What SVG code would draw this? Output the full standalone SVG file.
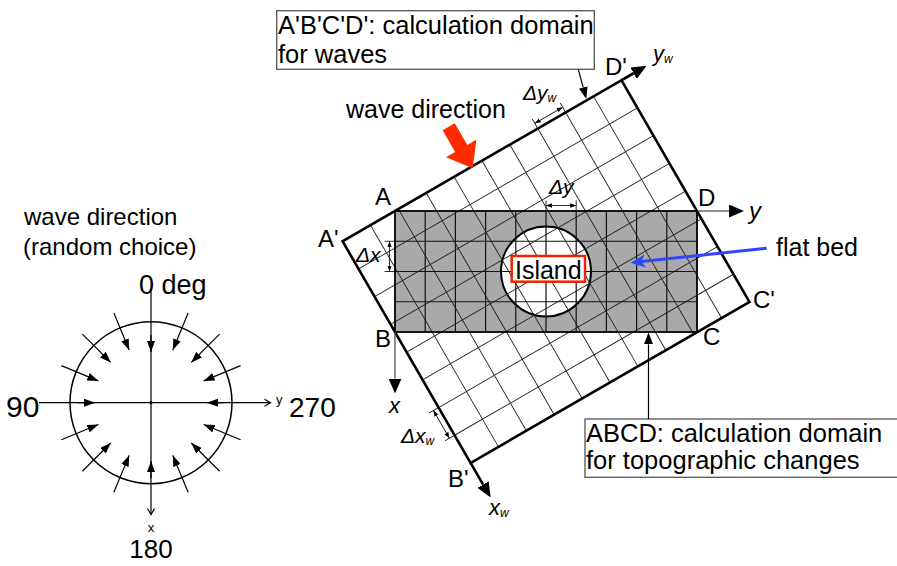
<svg xmlns="http://www.w3.org/2000/svg" width="897" height="566" viewBox="0 0 897 566">
<style>
text{font-family:"Liberation Sans",Arial,Helvetica,sans-serif;fill:#000}
.lbl{font-size:24px}
.big{font-size:25px}
.boxt{font-size:25.5px}
.it{font-style:italic}
.dl{font-size:21px;font-style:italic}
.sub{font-size:12px}
.gridT{stroke:#111;stroke-width:1.2;fill:none}
.gridW{stroke:#222;stroke-width:0.9;fill:none}
.thick{stroke:#000;stroke-width:2.6;fill:none}
.thin{stroke:#000;stroke-width:1.2;fill:none}
.axis{stroke:#444;stroke-width:1.2;fill:none}
.dim{stroke:#000;stroke-width:0.8;fill:none}
.box{fill:#fff;stroke:#555;stroke-width:1.3}
</style>
<defs>
<marker id="arr" viewBox="0 -6.5 15 13" refX="0" refY="0" markerWidth="15" markerHeight="13" markerUnits="userSpaceOnUse" orient="auto">
<path d="M0,-6.5 L15,0 L0,6.5 z" fill="#000"/>
</marker>
<marker id="sa" viewBox="0 -4 11 8" refX="11" refY="0" markerWidth="11" markerHeight="8" markerUnits="userSpaceOnUse" orient="auto">
<path d="M0,-4 L11,0 L0,4 z" fill="#000"/>
</marker>
<marker id="ca" viewBox="0 -4.5 12 9" refX="0" refY="0" markerWidth="12" markerHeight="9" markerUnits="userSpaceOnUse" orient="auto">
<path d="M0,-4.5 L12,0 L0,4.5 z" fill="#000"/>
</marker>
<marker id="oa" viewBox="-7 -4.5 8 9" refX="0" refY="0" markerWidth="8" markerHeight="9" markerUnits="userSpaceOnUse" orient="auto">
<path d="M-6,-3.5 L0,0 L-6,3.5" fill="none" stroke="#000" stroke-width="1.2"/>
</marker>
<marker id="dm" viewBox="-6 -2.5 6.5 5" refX="0" refY="0" markerWidth="6.5" markerHeight="5" markerUnits="userSpaceOnUse" orient="auto-start-reverse">
<path d="M-6,-2.2 L0,0 L-6,2.2 z" fill="#000"/>
</marker>
<marker id="ba" viewBox="0 -7 16 14" refX="4" refY="0" markerWidth="16" markerHeight="14" markerUnits="userSpaceOnUse" orient="auto">
<path d="M0,-6.5 L15,0 L0,6.5 L4,0 z" fill="#3344ff"/>
</marker>
</defs>
<rect x="0" y="0" width="897" height="566" fill="#fff"/>

<g id="topo-domain">
<rect x="395" y="211" width="302" height="121" fill="#a9a9a9"/>
</g>
<g id="island">
<circle cx="546" cy="271.5" r="45" fill="#fff" stroke="#000" stroke-width="2"/>
</g>
<g id="topo-grid">
<path class="gridT" d="M425.2,211V332M455.4,211V332M485.6,211V332M515.8,211V332M546,211V332M576.2,211V332M606.4,211V332M636.6,211V332M666.8,211V332M395,241.25H697M395,271.5H697M395,301.75H697"/>
</g>

<g id="wave-domain" transform="translate(342.6,241.25) rotate(-30)">
<path class="gridW" d="M32.2,0V256M64.4,0V256M96.6,0V256M128.8,0V256M161,0V256M193.2,0V256M225.4,0V256M257.6,0V256M289.8,0V256M0,32H322M0,64H322M0,96H322M0,128H322M0,160H322M0,192H322M0,224H322"/>
<rect class="thick" x="0" y="0" width="322" height="256"/>
<path class="thick" d="M322,0H336" marker-end="url(#arr)"/>
<path class="thick" d="M0,256V281" marker-end="url(#arr)"/>
<g id="dim-yw">
<path class="dim" d="M225.4,0V-11M257.6,0V-11"/>
<path class="dim" d="M225.4,-6H257.6" marker-start="url(#dm)" marker-end="url(#dm)"/>
</g>
<g id="dim-xw">
<path class="dim" d="M0,192H-11M0,224H-11"/>
<path class="dim" d="M-6,192V224" marker-start="url(#dm)" marker-end="url(#dm)"/>
</g>
</g>

<g id="topo-border">
<rect x="395" y="211" width="302" height="121" fill="none" stroke="#000" stroke-width="1.8"/>
<path class="axis" d="M697,211H729" marker-end="url(#arr)"/>
<path class="axis" d="M395,332V378.5" marker-end="url(#arr)"/>
<g id="dim-y">
<path class="dim" d="M546,211V200.5M576.2,211V200.5"/>
<path class="dim" d="M546,205.5H576.2" marker-start="url(#dm)" marker-end="url(#dm)"/>
</g>
<g id="dim-x">
<path class="dim" d="M395,241.25H384.5M395,271.5H384.5"/>
<path class="dim" d="M389.5,241.25V271.5" marker-start="url(#dm)" marker-end="url(#dm)"/>
</g>
</g>

<g id="island-label">
<rect x="511.7" y="256" width="73.3" height="25.7" fill="#fff" stroke="#ee2200" stroke-width="2.5"/>
<text class="big" x="548.3" y="279" text-anchor="middle">Island</text>
</g>

<g id="corner-labels">
<text class="lbl" x="375" y="205">A</text>
<text class="lbl" x="318" y="247">A'</text>
<text class="lbl" x="375" y="347">B</text>
<text class="lbl" x="448" y="487">B'</text>
<text class="lbl" x="703" y="345">C</text>
<text class="lbl" x="753" y="308">C'</text>
<text class="lbl" x="698" y="206">D</text>
<text class="lbl" x="605" y="75">D'</text>
</g>

<g id="axis-labels">
<text class="lbl it" x="749" y="219">y</text>
<text class="it" font-size="22" x="389" y="413">x</text>
<text class="it" font-size="22" x="489" y="515">x<tspan class="sub" dy="2">w</tspan></text>
<text class="it" font-size="22" x="653" y="61">y<tspan class="sub" dy="2">w</tspan></text>
<text class="dl" x="523" y="100">Δy<tspan class="sub" dy="2">w</tspan></text>
<text class="dl" x="549" y="194">Δy</text>
<text class="dl" x="356" y="262">Δx</text>
<text class="dl" x="401" y="443">Δx<tspan class="sub" dy="2">w</tspan></text>
</g>

<g id="wave-arrow">
<polygon points="0,0 -23,-17.5 -23,-7 -48,-7 -48,7 -23,7 -23,17.5" fill="#ff2a00" transform="translate(472.7,168.3) rotate(60)"/>
<text class="big" x="346" y="118">wave direction</text>
</g>

<g id="flat-bed">
<text class="big" x="776" y="256">flat bed</text>
</g>

<g id="label-waves">
<rect class="box" x="276.7" y="10.7" width="317.6" height="58.6"/>
<text class="boxt" x="278" y="34">A'B'C'D': calculation domain</text>
<text class="boxt" x="278" y="63">for waves</text>
</g>

<g id="label-topo">
<rect class="box" x="585" y="419" width="330" height="58.3"/>
<text class="boxt" x="586" y="441.5">ABCD: calculation domain</text>
<text class="boxt" x="586" y="469">for topographic changes</text>
</g>

<g id="connectors">
<path d="M766.7,248.3L641.4,261.5" stroke="#3344ff" stroke-width="3" fill="none" marker-end="url(#ba)"/>
<path class="thin" d="M578.3,69.3L583.2,87.5" marker-end="url(#ca)"/>
<path class="thin" d="M648.5,419V344.3" marker-end="url(#ca)"/>
</g>

<g id="legend">
<text font-size="24" x="24" y="225">wave direction</text>
<text font-size="24" x="23" y="255">(random choice)</text>
<text font-size="27" x="139" y="294">0 deg</text>
<text font-size="30" x="6" y="417">90</text>
<text font-size="28" x="289" y="417">270</text>
<text font-size="26" x="151" y="558" text-anchor="middle">180</text>
<text font-size="13" x="276" y="404">y</text>
<text font-size="13" x="151" y="532" text-anchor="middle">x</text>
<circle cx="151" cy="402.7" r="81" fill="none" stroke="#000" stroke-width="1.5"/>
<path class="thin" d="M151,289V514.5" marker-end="url(#oa)"/>
<path class="thin" d="M39,402.7H270.5" marker-end="url(#oa)"/>
<circle cx="151" cy="402.7" r="1.6" fill="#000"/>
<g id="legend-arrows" class="thin">
<path d="M151,335V352" marker-end="url(#sa)"/>
<path d="M151,478V461" marker-end="url(#sa)"/>
<path d="M78,402.7H95" marker-end="url(#sa)"/>
<path d="M224,402.7H207" marker-end="url(#sa)"/>
<path d="M188.12,313.08L172.81,350.04" marker-end="url(#sa)"/>
<path d="M219.59,334.11L191.31,362.39" marker-end="url(#sa)"/>
<path d="M240.62,365.58L203.66,380.89" marker-end="url(#sa)"/>
<path d="M240.62,439.82L203.66,424.51" marker-end="url(#sa)"/>
<path d="M219.59,471.29L191.31,443.01" marker-end="url(#sa)"/>
<path d="M188.12,492.32L172.81,455.36" marker-end="url(#sa)"/>
<path d="M113.88,492.32L129.19,455.36" marker-end="url(#sa)"/>
<path d="M82.41,471.29L110.69,443.01" marker-end="url(#sa)"/>
<path d="M61.38,439.82L98.34,424.51" marker-end="url(#sa)"/>
<path d="M61.38,365.58L98.34,380.89" marker-end="url(#sa)"/>
<path d="M82.41,334.11L110.69,362.39" marker-end="url(#sa)"/>
<path d="M113.88,313.08L129.19,350.04" marker-end="url(#sa)"/>
</g>
</g>
</svg>
